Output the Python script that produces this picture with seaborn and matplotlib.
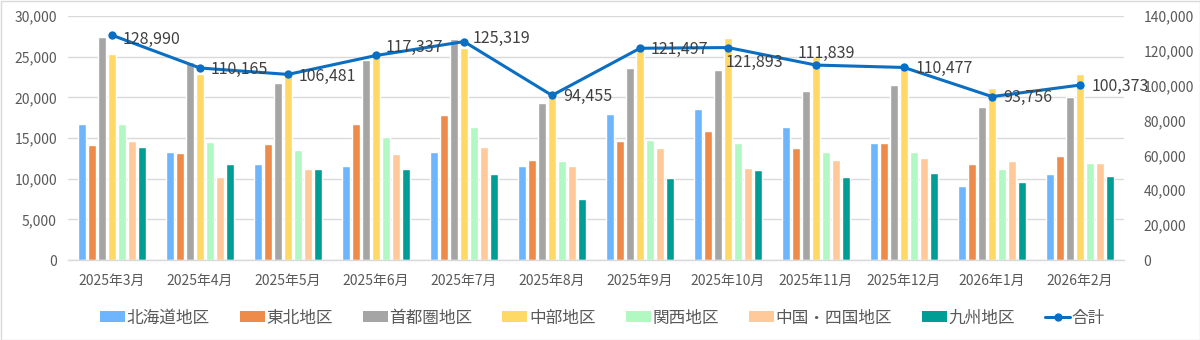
import numpy as np
import pandas as pd
import matplotlib
matplotlib.use("Agg")
import matplotlib.pyplot as plt
from matplotlib.patches import Patch, Rectangle
from matplotlib.lines import Line2D
import seaborn as sns

months = ["2025年3月", "2025年4月", "2025年5月", "2025年6月", "2025年7月", "2025年8月",
          "2025年9月", "2025年10月", "2025年11月", "2025年12月", "2026年1月", "2026年2月"]
regions = ["北海道地区", "東北地区", "首都圏地区", "中部地区", "関西地区", "中国・四国地区", "九州地区"]

hokkaido = [16780, 13340, 11800, 11580, 13220, 11580, 17970, 18540, 16410, 14330, 9090, 10520]
tohoku   = [14200, 13180, 14290, 16780, 17770, 12240, 14610, 15880, 13800, 14330, 11790, 12770]
shutoken = [27430, 24290, 21820, 24640, 27220, 19280, 23580, 23330, 20790, 21490, 18830, 20020]
chubu    = [25300, 22840, 22720, 24990, 26070, 19980, 26400, 27300, 25100, 23540, 21120, 22880]
kansai   = [16660, 14490, 13510, 15150, 16370, 12160, 14780, 14370, 13220, 13260, 11130, 11910]
chushikoku = [14650, 10230, 11220, 13020, 13920, 11580, 13800, 11260, 12320, 12490, 12200, 11870]
kyushu   = [13880, 11790, 11130, 11180, 10560, 7450, 10110, 11090, 10190, 10640, 9540, 10270]
totals   = [128990, 110165, 106481, 117337, 125319, 94455, 121497, 121893, 111839, 110477, 93756, 100373]

series = [hokkaido, tohoku, shutoken, chubu, kansai, chushikoku, kyushu]
colors = ["#6DB5FD", "#EE8B4B", "#A5A5A5", "#FFD966", "#B2F8C2", "#FFC999", "#009D95"]
line_color = "#0A6EC2"

# label offsets (pixels: dx right, dy up) and alignment
label_off = [(11, -4), (11, -1), (11, -2), (10, 8), (9, 3), (11, -1),
             (11, -1), (-2, -15), (10, 12), (12, -1), (11, -1), (12, -1)]
label_ha = ["left"] * 8 + ["center"] + ["left"] * 3

rows = []
for reg, vals in zip(regions, series):
    for m, v in zip(months, vals):
        rows.append({"month": m, "region": reg, "value": v})
df = pd.DataFrame(rows)
tot_df = pd.DataFrame({"month": months, "total": totals})

sns.set_theme(style="white")
plt.rcParams["font.family"] = ["Noto Sans CJK JP", "DejaVu Sans"]

fig = plt.figure(figsize=(12, 3.4), dpi=100)
ax = fig.add_axes([68 / 1200, 1 - 260 / 340, (1124 - 68) / 1200, (260 - 16) / 340])

sns.barplot(data=df, x="month", y="value", hue="region", order=months, hue_order=regions,
            palette=colors, width=0.8, gap=0.17, ax=ax, legend=False, saturation=1,
            errorbar=None)

ax.set_ylim(0, 30000)
ax.set_xlim(-0.5, len(months) - 0.5)
ax.set_yticks(np.arange(0, 30001, 5000))
ax.set_yticklabels([f"{v:,}" for v in range(0, 30001, 5000)])
ax.yaxis.grid(True, color="#D9D9D9", linewidth=1)
ax.set_axisbelow(True)
ax.set_xlabel("")
ax.set_ylabel("")
for s in ["top", "right", "left"]:
    ax.spines[s].set_visible(False)
ax.spines["bottom"].set_color("#D9D9D9")
ax.spines["bottom"].set_linewidth(1)
ax.tick_params(axis="y", length=0, labelsize=10, labelcolor="#595959", pad=8)
ax.tick_params(axis="x", which="major", length=0, labelsize=10, labelcolor="#595959", pad=10)
ax.set_xticks(np.arange(-0.5, len(months), 1), minor=True)
ax.tick_params(axis="x", which="minor", length=5, color="#D9D9D9", width=1)

ax2 = ax.twinx()
sns.lineplot(data=tot_df, x="month", y="total", ax=ax2, sort=False, color=line_color,
             linewidth=2.2, marker="o", markersize=6, markeredgewidth=0, legend=False)
ax2.set_ylim(0, 140000)
ax2.set_xlim(-0.5, len(months) - 0.5)
ax2.set_yticks(np.arange(0, 140001, 20000))
ax2.set_yticklabels([f"{v:,}" for v in range(0, 140001, 20000)])
ax2.set_ylabel("")
ax2.set_xlabel("")
for s in ["top", "right", "left", "bottom"]:
    ax2.spines[s].set_visible(False)
ax2.tick_params(axis="y", length=0, labelsize=10, labelcolor="#595959", pad=14)

for i, (t, (dx, dy), ha) in enumerate(zip(totals, label_off, label_ha)):
    ax2.annotate(f"{t:,}", xy=(i, t), xytext=(dx * 0.72, dy * 0.72), textcoords="offset points",
                 ha=ha, va="center", fontsize=11.5, color="#404040", zorder=5)

handles = [Patch(facecolor=c, edgecolor="none") for c in colors]
handles.append(Line2D([0], [0], color=line_color, linewidth=2.2, marker="o", markersize=6,
                      markeredgewidth=0))
fig.legend(handles, regions + ["合計"], loc="center", bbox_to_anchor=(0.502, 1 - 318 / 340),
           ncol=8, frameon=False, fontsize=12, handlelength=1.5, handleheight=0.6,
           handletextpad=0.1, columnspacing=1.8, labelcolor="#595959")

fig.patches.append(Rectangle((0.5 / 1200, 0.5 / 340), 1 - 1 / 1200, 1 - 1 / 340,
                             transform=fig.transFigure, fill=False, edgecolor="#D9D9D9",
                             linewidth=1))

fig.savefig("out.png", dpi=100)
